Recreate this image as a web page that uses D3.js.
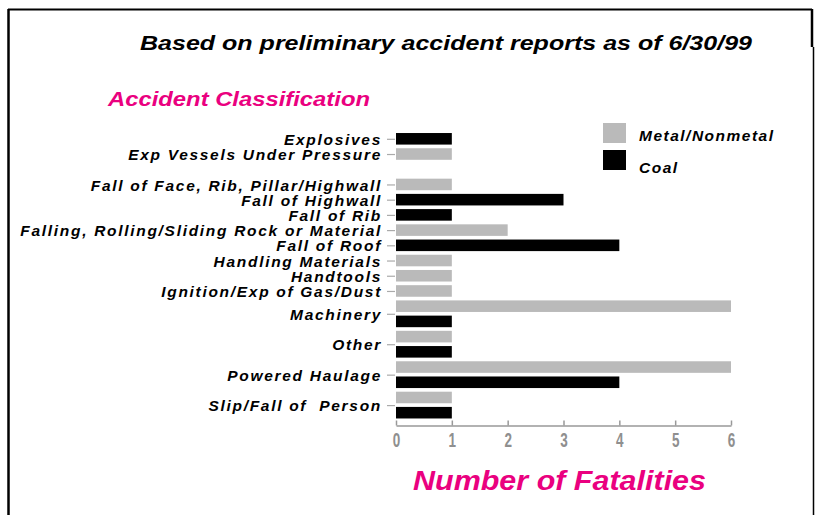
<!DOCTYPE html>
<html>
<head>
<meta charset="utf-8">
<script src="https://cdn.jsdelivr.net/npm/d3@7"></script>
<style>
  body { margin: 0; background: #fff; }
  svg text { font-family: "Liberation Sans", Arial, sans-serif; }
</style>
</head>
<body>
<div id="chart"></div>
<script>
// chart data
var categories = [
    "Explosives",
    "Exp Vessels Under Pressure",
    "Fall of Face, Rib, Pillar/Highwall",
    "Fall of Highwall",
    "Fall of Rib",
    "Falling, Rolling/Sliding Rock or Material",
    "Fall of Roof",
    "Handling Materials",
    "Handtools",
    "Ignition/Exp of Gas/Dust",
    "Machinery",
    "Other",
    "Powered Haulage",
    "Slip/Fall of  Person"
];
// null = no row for that series
var metalValues = [null, 1, 1, null, null, 2, null, 1, 1, 1, 6, 1, 6, 1];
var coalValues  = [1, 0, null, 3, 1, null, 4, null, null, null, 1, 1, 4, 1];
var seriesNames = ["Metal/Nonmetal", "Coal"];
var xTicks = [0, 1, 2, 3, 4, 5, 6];

var svgWidth = 815;
var svgHeight = 515;
var colors = ["#bababa", "#000000"];
var magenta = "#ea007f";

var svg = d3.select("#chart")
    .append("svg")
    .attr("width", svgWidth)
    .attr("height", svgHeight);

// frame
svg.append("path").attr("d", "M8,9.5H812").attr("stroke", "#000").attr("stroke-width", 2);
svg.append("path").attr("d", "M8.5,9V515").attr("stroke", "#000").attr("stroke-width", 2.5);
svg.append("path").attr("d", "M812,9V47").attr("stroke", "#000").attr("stroke-width", 2.5);
svg.append("path").attr("d", "M813.5,47V515").attr("stroke", "#000").attr("stroke-width", 1.5);

// one row (slot) per category/series that has a value
var slots = [];
categories.forEach(function(c, i) {
    [metalValues[i], coalValues[i]].forEach(function(v, s) {
        if (v !== null) slots.push({ cat: c, series: s, value: v, key: i + "-" + s });
    });
});

var x = d3.scaleLinear()
    .domain([0, 6])
    .range([396, 731]);

var y = d3.scaleBand()
    .domain(slots.map(d => d.key))
    .range([131.5, 420])
    .paddingInner(0.24)
    .paddingOuter(0.1);

// tick for each category sits at the middle of its non-zero rows
var tickYs = categories.map(function(c) {
    var rows = slots.filter(d => d.cat === c && d.value > 0);
    if (!rows.length) rows = slots.filter(d => d.cat === c);
    return d3.mean(rows, d => y(d.key) + y.bandwidth() / 2);
});
var yCat = d3.scaleOrdinal().domain(categories).range(tickYs);

// bars
svg.append("g").selectAll("rect")
    .data(slots.filter(d => d.value > 0))
    .enter()
    .append("rect")
    .attr("x", x(0))
    .attr("y", d => y(d.key))
    .attr("width", d => x(d.value) - x(0))
    .attr("height", y.bandwidth())
    .attr("fill", d => colors[d.series]);

// x axis, ticks pointing up
var xAxis = svg.append("g")
    .attr("transform", "translate(0, 425.5)")
    .call(d3.axisBottom(x).tickValues(xTicks).tickFormat(d3.format("d"))
        .tickSizeInner(-5).tickSizeOuter(0).tickPadding(6));
xAxis.select(".domain").attr("stroke", "#999").attr("stroke-width", 1.5);
xAxis.selectAll(".tick line").attr("stroke", "#999").attr("stroke-width", 1.5);
xAxis.selectAll(".tick text")
    .attr("fill", "#8f8f8f")
    .attr("transform", "scale(0.75, 1.15)")
    .style("font-family", "'Liberation Sans Narrow', 'Liberation Sans', sans-serif")
    .style("font-weight", "bold")
    .style("font-size", "18px");

// y axis, labels only with short gray ticks
var yAxis = svg.append("g")
    .attr("transform", "translate(395, 0)")
    .call(d3.axisLeft(yCat).tickSizeInner(8).tickSizeOuter(0).tickPadding(5));
yAxis.select(".domain").remove();
yAxis.selectAll(".tick line").attr("stroke", "#aaa").attr("stroke-width", 1.2);
yAxis.selectAll(".tick text")
    .attr("fill", "#000")
    .attr("dy", "0.36em")
    .style("font-size", "15.5px")
    .style("letter-spacing", "1.7px")
    .style("font-style", "italic")
    .style("font-weight", "bold")
    .style("white-space", "pre");

// titles
svg.append("text")
    .attr("x", 140)
    .attr("y", 50)
    .attr("textLength", 612)
    .attr("lengthAdjust", "spacingAndGlyphs")
    .style("font-size", "20px")
    .style("font-style", "italic")
    .style("font-weight", "bold")
    .text("Based on preliminary accident reports as of 6/30/99");

svg.append("text")
    .attr("x", 108)
    .attr("y", 106)
    .attr("textLength", 262)
    .attr("lengthAdjust", "spacingAndGlyphs")
    .attr("fill", magenta)
    .style("font-size", "20px")
    .style("font-style", "italic")
    .style("font-weight", "bold")
    .text("Accident Classification");

svg.append("text")
    .attr("x", 413)
    .attr("y", 490)
    .attr("textLength", 293)
    .attr("lengthAdjust", "spacingAndGlyphs")
    .attr("fill", magenta)
    .style("font-size", "27px")
    .style("font-style", "italic")
    .style("font-weight", "bold")
    .text("Number of Fatalities");

// legend
var legend = svg.append("g")
    .selectAll("g")
    .data(seriesNames)
    .enter()
    .append("g")
    .attr("transform", (d, i) => `translate(603, ${123 + i * 27})`);

legend.append("rect")
    .attr("width", 23)
    .attr("height", 20)
    .attr("fill", (d, i) => colors[i]);

legend.append("text")
    .attr("x", 36)
    .attr("y", (d, i) => 18 + i * 5)
    .style("font-size", "15.5px")
    .style("letter-spacing", "1.5px")
    .style("font-style", "italic")
    .style("font-weight", "bold")
    .text(d => d);
</script>
</body>
</html>
